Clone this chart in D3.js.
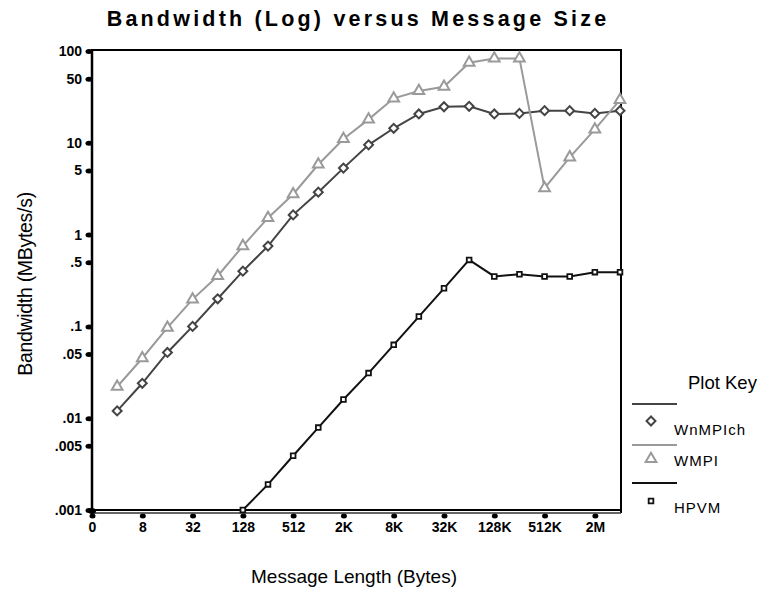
<!DOCTYPE html>
<html>
<head>
<meta charset="utf-8">
<script src="https://cdn.jsdelivr.net/npm/d3@7"></script>
<style>
  body { margin: 0; background: #fff; }
  text { font-family: "Liberation Sans", Arial, sans-serif; }
</style>
</head>
<body>
<script>
// Message sizes in bytes (4 B .. 4 MB, doubling)
var sizes = [4, 8, 16, 32, 64, 128, 256, 512, 1024, 2048, 4096, 8192, 16384, 32768,
  65536, 131072, 262144, 524288, 1048576, 2097152, 4194304];

// Bandwidth in MBytes/s
var wnmpich = [0.012, 0.024, 0.052, 0.10, 0.20, 0.40, 0.75, 1.64, 2.9, 5.3, 9.5, 14.4,
  20.6, 24.7, 25, 20.6, 20.9, 22.4, 22.4, 20.9, 22.4];
var wmpi = [0.022, 0.045, 0.097, 0.197, 0.354, 0.75, 1.52, 2.75, 5.8, 11, 18, 30.5,
  36.7, 40.8, 74.6, 83, 83, 3.2, 6.95, 14, 29.3];
// HPVM starts at 128 bytes
var hpvmSizes = sizes.slice(5);
var hpvm = [0.001, 0.0019, 0.0039, 0.0079, 0.016, 0.031, 0.063, 0.128, 0.26, 0.53,
  0.35, 0.37, 0.35, 0.35, 0.39, 0.39];

var xTicks = [2, 8, 32, 128, 512, 2048, 8192, 32768, 131072, 524288, 2097152];
var xLabels = ["0", "8", "32", "128", "512", "2K", "8K", "32K", "128K", "512K", "2M"];
var yTicks = [100, 50, 10, 5, 1, 0.5, 0.1, 0.05, 0.01, 0.005, 0.001];
var yLabels = ["100", "50", "10", "5", "1", ".5", ".1", ".05", ".01", ".005", ".001"];

var svgWidth = 760;
var svgHeight = 589;

var chartMargin = { top: 50, left: 92 };
var chartWidth = 529;
var chartHeight = 460;

var svg = d3.select("body")
  .append("svg")
  .attr("width", svgWidth)
  .attr("height", svgHeight);

var chartGroup = svg.append("g")
  .attr("transform", `translate(${chartMargin.left}, ${chartMargin.top})`);

var xScale = d3.scaleLog().base(2)
  .domain([2, 4194304])
  .range([0, chartWidth - 1]);

var yScale = d3.scaleLog()
  .domain([0.001, 100])
  .range([chartHeight, 1]);

// title
svg.append("text")
  .attr("x", 358)
  .attr("y", 26)
  .attr("text-anchor", "middle")
  .style("font-size", "21.5px")
  .style("font-weight", "bold")
  .style("letter-spacing", "3.2px")
  .text("Bandwidth (Log) versus Message Size");

// axis titles
svg.append("text")
  .attr("x", 354)
  .attr("y", 583)
  .attr("text-anchor", "middle")
  .style("font-size", "19px")
  .text("Message Length (Bytes)");

svg.append("text")
  .attr("transform", "translate(32, 284) rotate(-90)")
  .attr("text-anchor", "middle")
  .style("font-size", "19.5px")
  .style("letter-spacing", "-0.3px")
  .text("Bandwidth (MBytes/s)");

// frame: top and right
chartGroup.append("path")
  .attr("d", `M0,0H${chartWidth}V${chartHeight + 3}`)
  .attr("fill", "none")
  .attr("stroke", "#000")
  .attr("stroke-width", 2);

// left axis
var leftAxis = d3.axisLeft(yScale)
  .tickValues(yTicks)
  .tickFormat((d, i) => yLabels[i])
  .tickSize(0)
  .tickPadding(10);

var yAxisG = chartGroup.append("g").call(leftAxis);
yAxisG.select(".domain").remove();
yAxisG.selectAll("text")
  .style("font-size", "14px")
  .style("font-weight", "bold")
  .attr("fill", "#000");
yAxisG.selectAll(".tick").append("ellipse")
  .attr("cx", -3)
  .attr("rx", 3.5)
  .attr("ry", 2.5)
  .attr("fill", "#000");

chartGroup.append("line")
  .attr("x1", 0).attr("x2", 0)
  .attr("y1", -1).attr("y2", chartHeight + 4)
  .attr("stroke", "#000")
  .attr("stroke-width", 2.5);

// bottom axis
var bottomAxis = d3.axisBottom(xScale)
  .tickValues(xTicks)
  .tickFormat((d, i) => xLabels[i])
  .tickSize(0)
  .tickPadding(12);

var xAxisG = chartGroup.append("g")
  .attr("transform", `translate(0, ${chartHeight})`)
  .call(bottomAxis);
xAxisG.select(".domain").remove();
xAxisG.selectAll("text")
  .style("font-size", "14px")
  .style("font-weight", "bold")
  .attr("fill", "#000");
xAxisG.selectAll(".tick").append("ellipse")
  .attr("cy", 6)
  .attr("rx", 3)
  .attr("ry", 2.5)
  .attr("fill", "#000");

// double base line
chartGroup.append("line")
  .attr("x1", 0).attr("x2", chartWidth)
  .attr("y1", chartHeight).attr("y2", chartHeight)
  .attr("stroke", "#000").attr("stroke-width", 2);
chartGroup.append("line")
  .attr("x1", 0).attr("x2", chartWidth)
  .attr("y1", chartHeight + 3).attr("y2", chartHeight + 3)
  .attr("stroke", "#333").attr("stroke-width", 1.5);
chartGroup.append("ellipse")
  .attr("cx", 0).attr("cy", chartHeight + 1)
  .attr("rx", 4).attr("ry", 3)
  .attr("fill", "#000");

var series = [
  { name: "WnMPIch", xs: sizes, ys: wnmpich, color: "#444", marker: "diamond" },
  { name: "WMPI", xs: sizes, ys: wmpi, color: "#9a9a9a", marker: "triangle" },
  { name: "HPVM", xs: hpvmSizes, ys: hpvm, color: "#111", marker: "square" }
];

var symbols = {
  diamond: d3.symbol().type(d3.symbolSquare).size(40),
  triangle: d3.symbol().type(d3.symbolTriangle).size(50),
  square: d3.symbol().type(d3.symbolSquare).size(22)
};

var line = d3.line()
  .x(d => xScale(d[0]))
  .y(d => yScale(d[1]));

series.forEach(function(s) {
  var pts = s.xs.map((x, i) => [x, s.ys[i]]);

  chartGroup.append("path")
    .datum(pts)
    .attr("d", line)
    .attr("fill", "none")
    .attr("stroke", s.color)
    .attr("stroke-width", 2);

  chartGroup.selectAll(".m-" + s.marker)
    .data(pts)
    .enter()
    .append("path")
    .attr("class", "m-" + s.marker)
    .attr("d", symbols[s.marker])
    .attr("transform", function(d) {
      var t = `translate(${xScale(d[0])}, ${yScale(d[1])})`;
      return s.marker == "diamond" ? t + " rotate(45)" : t;
    })
    .attr("fill", "#fff")
    .attr("stroke", s.color)
    .attr("stroke-width", s.marker == "square" ? 1.8 : 2);
});

// legend
var legend = svg.append("g");

legend.append("text")
  .attr("x", 688)
  .attr("y", 389)
  .style("font-size", "18.5px")
  .text("Plot Key");

series.forEach(function(s, i) {
  var lineY = [404, 445, 483][i];
  var symY = [421, 459, 501][i];
  var textY = [435, 466, 513][i];

  legend.append("line")
    .attr("x1", 632).attr("x2", 677)
    .attr("y1", lineY).attr("y2", lineY)
    .attr("stroke", s.color)
    .attr("stroke-width", 2);

  legend.append("path")
    .attr("d", symbols[s.marker])
    .attr("transform", `translate(651, ${symY})` + (s.marker == "diamond" ? " rotate(45)" : ""))
    .attr("fill", "#fff")
    .attr("stroke", s.color)
    .attr("stroke-width", s.marker == "square" ? 1.8 : 2);

  legend.append("text")
    .attr("x", 674)
    .attr("y", textY)
    .style("font-size", "15px")
    .style("letter-spacing", "1px")
    .text(s.name);
});
</script>
</body>
</html>
